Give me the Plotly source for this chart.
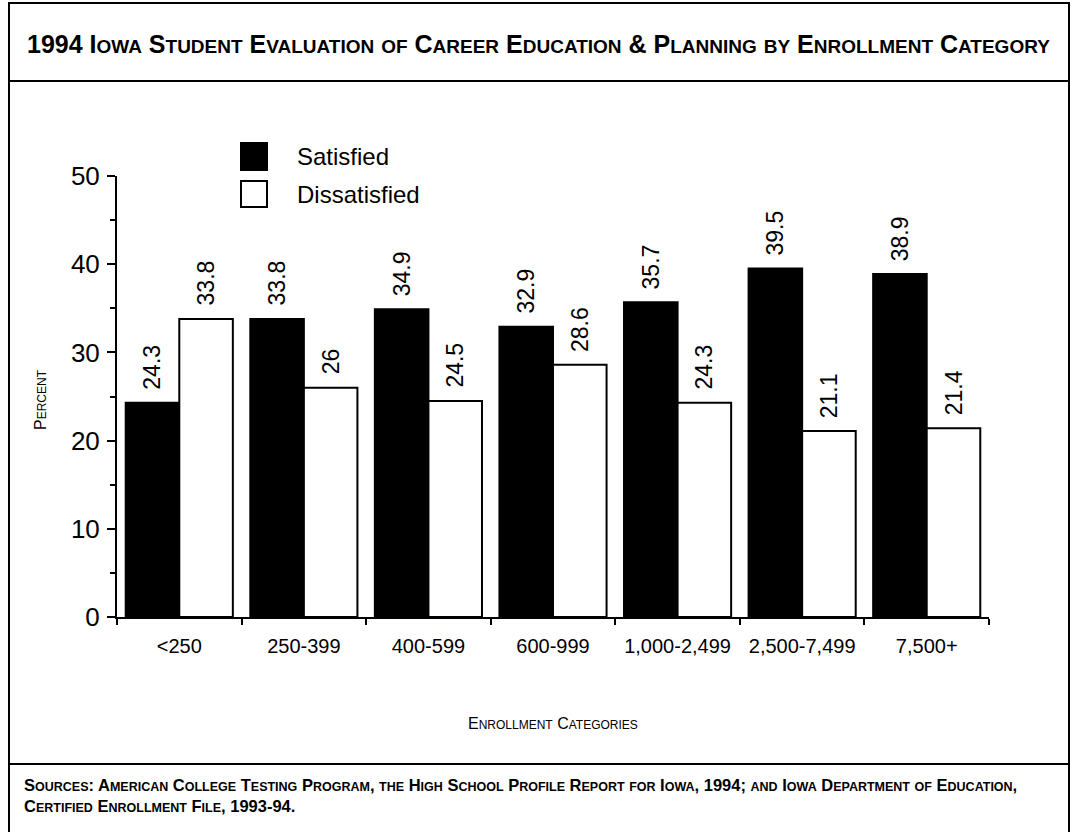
import plotly.graph_objects as go

# Survey results by school enrollment size
categories = ["<250", "250-399", "400-599", "600-999", "1,000-2,499", "2,500-7,499", "7,500+"]
satisfied = [24.3, 33.8, 34.9, 32.9, 35.7, 39.5, 38.9]
dissatisfied = [33.8, 26, 24.5, 28.6, 24.3, 21.1, 21.4]
series_names = ["Satisfied", "Dissatisfied"]
y_ticks = [0, 10, 20, 30, 40, 50]

W, H = 1072, 832
L, R, T, B = 117, 83, 176, 215
PW, PH = W - L - R, H - T - B

SANS = "Liberation Sans, Arial, Helvetica, sans-serif"


def px_x(px):
    return (px - L) / PW


def px_y(py):
    return (H - B - py) / PH


def small_caps(text, big, small):
    """Render text in small caps: lowercase letters become smaller capitals."""
    out, run, run_lower = [], "", None
    for ch in text:
        is_lower = ch.islower()
        if run_lower is None or is_lower == run_lower:
            run += ch
        else:
            out.append((run, run_lower))
            run = ch
        run_lower = is_lower
    if run:
        out.append((run, run_lower))
    html = ""
    for seg, low in out:
        size = small if low else big
        html += f'<span style="font-size:{size}px">{seg.upper() if low else seg}</span>'
    return html


fig = go.Figure()
fig.add_trace(go.Bar(
    x=categories, y=satisfied, name=series_names[0],
    marker=dict(color="black", line=dict(color="black", width=2)),
    showlegend=False,
))
fig.add_trace(go.Bar(
    x=categories, y=dissatisfied, name=series_names[1],
    marker=dict(color="white", line=dict(color="black", width=2)),
    showlegend=False,
))

annotations = []
# value labels above each bar, rotated
for i, (s, d) in enumerate(zip(satisfied, dissatisfied)):
    for off, v in ((-0.215, s), (0.215, d)):
        annotations.append(dict(
            x=i + off, y=v, xref="x", yref="y", text=f"{v:g}",
            showarrow=False, textangle=-90, yanchor="bottom", xanchor="center",
            yshift=11, font=dict(size=23, family=SANS, color="black"),
        ))

# legend
legend_items = [(series_names[0], "black", 143, 170), (series_names[1], "white", 181, 207)]
shapes = []
for name, fill, y0, y1 in legend_items:
    shapes.append(dict(type="rect", xref="paper", yref="paper",
                       x0=px_x(241), x1=px_x(267), y0=px_y(y1), y1=px_y(y0),
                       fillcolor=fill, line=dict(color="black", width=2)))
    annotations.append(dict(x=px_x(295), y=px_y((y0 + y1) / 2), xref="paper", yref="paper",
                            text=name, showarrow=False, xanchor="left", yanchor="middle",
                            font=dict(size=24, family=SANS, color="black")))

# frame and section dividers
shapes.append(dict(type="rect", xref="paper", yref="paper",
                   x0=px_x(9), x1=px_x(1069), y0=px_y(845), y1=px_y(3),
                   line=dict(color="black", width=2), fillcolor="rgba(0,0,0,0)"))
for py in (81, 764):
    shapes.append(dict(type="line", xref="paper", yref="paper",
                       x0=px_x(9), x1=px_x(1069), y0=px_y(py), y1=px_y(py),
                       line=dict(color="black", width=2)))

# title
annotations.append(dict(
    x=px_x(538), y=px_y(44), xref="paper", yref="paper", showarrow=False,
    xanchor="center", yanchor="middle",
    text="<b>" + small_caps("1994 Iowa Student Evaluation of Career Education & Planning by Enrollment Category", 25, 19) + "</b>",
    font=dict(family=SANS, color="black", size=25),
))

# sources note
src1 = "Sources: American College Testing Program, the High School Profile Report for Iowa, 1994; and Iowa Department of Education,"
src2 = "Certified Enrollment File, 1993-94."
annotations.append(dict(
    x=px_x(22), y=px_y(774), xref="paper", yref="paper", showarrow=False,
    xanchor="left", yanchor="top", align="left",
    text="<b>" + small_caps(src1, 16.5, 12.5) + "<br>" + small_caps(src2, 16.5, 12.5) + "</b>",
    font=dict(family=SANS, color="black", size=16.5),
))

# axis titles
annotations.append(dict(
    x=px_x(40), y=px_y(400), xref="paper", yref="paper", showarrow=False,
    textangle=-90, xanchor="center", yanchor="middle",
    text=small_caps("Percent", 16, 12), font=dict(family=SANS, color="black", size=16),
))
annotations.append(dict(
    x=px_x(553), y=px_y(723), xref="paper", yref="paper", showarrow=False,
    xanchor="center", yanchor="middle",
    text=small_caps("Enrollment Categories", 16, 12), font=dict(family=SANS, color="black", size=16),
))

fig.update_layout(
    width=W, height=H,
    margin=dict(l=L, r=R, t=T, b=B, pad=0),
    paper_bgcolor="white", plot_bgcolor="white",
    barmode="group", bargap=0.14, bargroupgap=0,
    annotations=annotations, shapes=shapes,
    font=dict(family=SANS, color="black"),
    showlegend=False,
)
fig.update_xaxes(
    type="category", showline=True, linecolor="black", linewidth=2,
    ticks="outside", tickson="boundaries", ticklen=6, tickwidth=2, tickcolor="black",
    tickfont=dict(size=20, family=SANS, color="black"), ticklabelstandoff=10,
    showgrid=False, zeroline=False,
)
fig.update_yaxes(
    range=[0, 50], tickvals=y_ticks, showline=True, linecolor="black", linewidth=2,
    ticks="outside", ticklen=8, tickwidth=2, tickcolor="black",
    minor=dict(dtick=5, ticks="outside", ticklen=5, tickwidth=2, tickcolor="black", showgrid=False),
    tickfont=dict(size=26, family=SANS, color="black"), ticklabelstandoff=2,
    showgrid=False, zeroline=False,
)

fig.write_html("out.html")
